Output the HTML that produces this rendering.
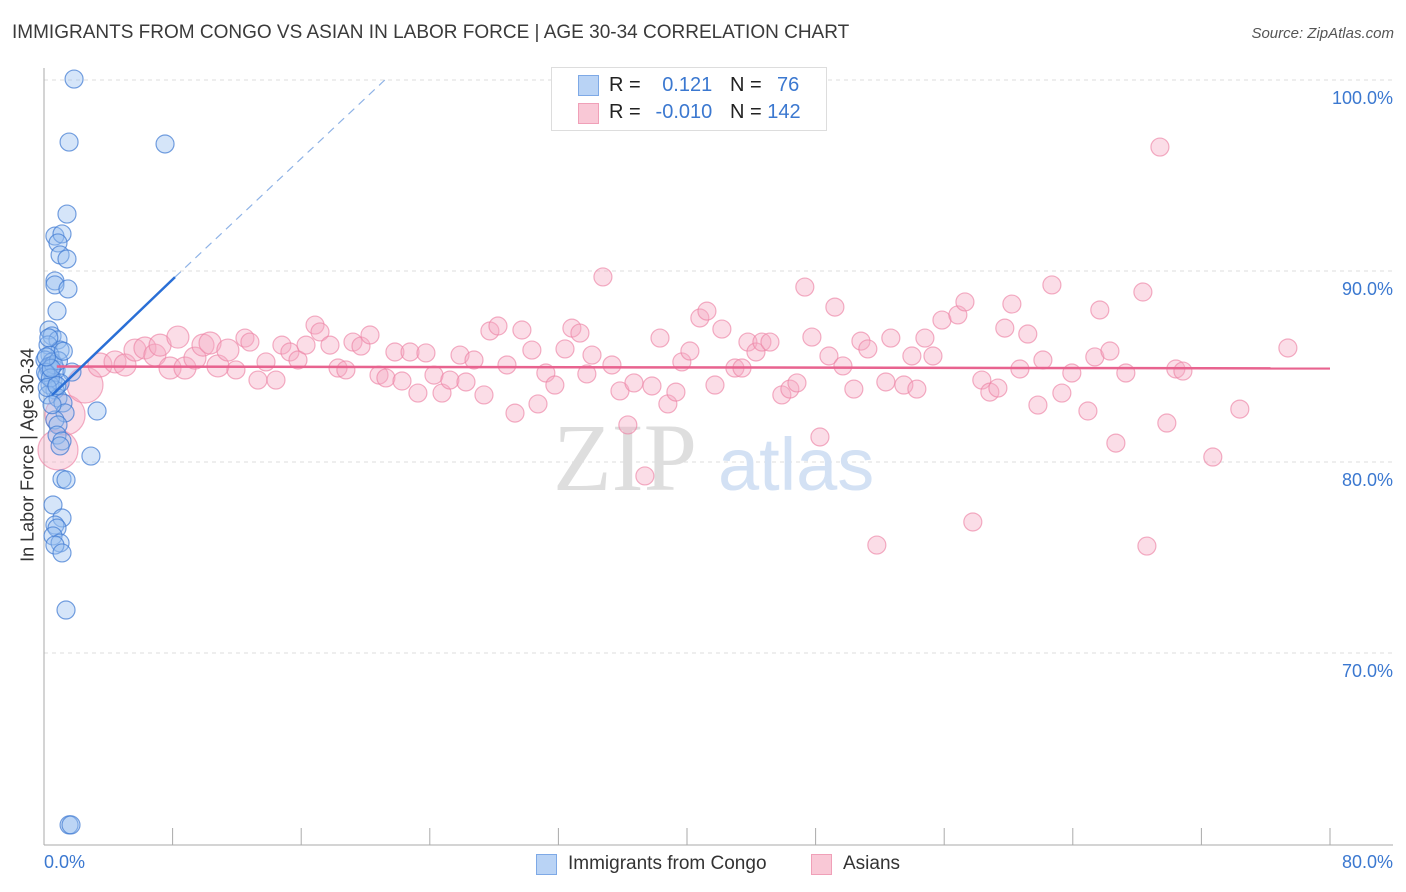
<!DOCTYPE html>
<html><head><meta charset="utf-8"><style>
body{margin:0;background:#fff;font-family:"Liberation Sans",sans-serif;}
#wrap{position:relative;width:1406px;height:892px;overflow:hidden;}
.t{position:absolute;white-space:nowrap;}
</style></head><body>
<div id="wrap">
<div class="t" style="left:12px;top:22px;font-size:19px;color:#3a3a3a;">IMMIGRANTS FROM CONGO VS ASIAN IN LABOR FORCE | AGE 30-34 CORRELATION CHART</div>
<div class="t" style="right:12px;top:25px;font-size:15px;color:#555;font-style:italic;">Source: ZipAtlas.com</div>
<svg id="svg" width="1406" height="892" style="position:absolute;left:0;top:0"></svg>
<div class="t" style="left:551px;top:67px;width:274px;height:62px;border:1px solid #ddd;background:#fff;"></div>
<div class="t" style="left:578px;top:75px;width:19px;height:19px;background:#b9d3f5;border:1px solid #7ea9e6;"></div>
<div class="t" style="left:578px;top:103px;width:19px;height:19px;background:#f9c8d6;border:1px solid #f0a0b8;"></div>
<div class="t" style="left:609px;top:74px;font-size:20px;color:#222;">R = <span style="color:#3b78d0;display:inline-block;width:66px;text-align:right">0.121</span></div>
<div class="t" style="left:730px;top:74px;font-size:20px;color:#222;">N = <span style="color:#3b78d0;display:inline-block;width:32px;text-align:right">76</span></div>
<div class="t" style="left:609px;top:101px;font-size:20px;color:#222;">R = <span style="color:#3b78d0;display:inline-block;width:66px;text-align:right">-0.010</span></div>
<div class="t" style="left:730px;top:101px;font-size:20px;color:#222;">N = <span style="color:#3b78d0">142</span></div>
<div class="t" style="left:28px;top:455px;font-size:18px;color:#333;transform:translate(-50%,-50%) rotate(-90deg);">In Labor Force | Age 30-34</div>
<div class="t" style="left:44px;top:852px;font-size:18px;color:#3b78d0;">0.0%</div>
<div class="t" style="right:13px;top:852px;font-size:18px;color:#3b78d0;">80.0%</div>
<div class="t" style="left:536px;top:854px;width:19px;height:19px;background:#b9d3f5;border:1px solid #7ea9e6;"></div>
<div class="t" style="left:568px;top:853px;font-size:19px;color:#333;">Immigrants from Congo</div>
<div class="t" style="left:811px;top:854px;width:19px;height:19px;background:#f9c8d6;border:1px solid #f0a0b8;"></div>
<div class="t" style="left:843px;top:853px;font-size:19px;color:#333;">Asians</div>
</div>
<script>
const yTicks=[100,90,80,70];
const yTickLabels=["100.0%","90.0%","80.0%","70.0%"];
const xTicks=[0,8,16,24,32,40,48,56,64,72,80];
const congoX=[1.87,1.56,7.53,1.43,0.68,1.12,0.87,1.0,1.43,0.68,0.68,1.49,0.81,0.31,0.5,0.87,0.25,1.0,0.37,0.06,0.5,0.25,0.75,1.74,0.19,0.56,1.0,0.37,0.68,0.25,0.87,1.18,3.3,1.31,0.68,0.87,0.81,1.12,1.0,2.92,1.12,1.37,0.56,1.12,0.68,0.81,0.56,1.0,0.68,1.12,1.37,1.56,1.68,0.3,0.6,0.1,0.4,0.9,0.2,0.5,0.8,0.3,1.2,0.45,0.15];
const congoY=[100.05,96.75,96.65,92.98,91.83,91.94,91.47,90.84,90.63,89.48,89.27,89.06,87.91,86.91,86.6,86.39,86.13,85.86,85.6,85.34,85.24,84.92,84.82,84.71,84.55,84.29,84.14,84.03,83.77,83.51,83.35,83.09,82.67,82.57,82.2,81.94,81.41,81.1,80.84,80.31,79.11,79.06,77.75,77.07,76.7,76.54,76.13,75.76,75.65,75.24,72.25,61.0,61.0,85.0,85.1,84.7,84.4,85.3,83.9,83.0,84.0,86.5,85.8,84.9,85.5];
const asianX=[0.87,1.31,2.55,3.48,4.42,5.04,5.66,6.28,6.9,7.22,7.84,8.33,8.77,9.39,9.89,10.33,10.82,11.44,11.94,12.5,12.81,13.31,13.81,14.43,14.8,15.3,15.8,16.3,16.86,17.17,17.79,18.29,18.78,19.22,19.72,20.28,20.84,21.27,21.83,22.27,22.77,23.26,23.76,24.26,24.76,25.25,25.88,26.25,26.75,27.37,27.74,28.24,28.8,29.3,29.73,30.35,30.73,31.22,31.78,32.41,32.84,33.34,33.77,34.09,34.77,35.33,35.83,36.32,36.7,37.38,37.82,38.32,38.81,39.31,39.68,40.18,40.8,41.24,41.74,42.17,42.98,43.42,43.79,44.29,44.66,45.16,45.9,46.4,46.84,47.33,47.77,48.27,48.83,49.2,49.7,50.38,50.82,51.25,51.81,52.37,52.68,53.49,53.99,54.3,54.8,55.3,55.86,56.85,57.29,57.78,58.34,58.84,59.34,59.77,60.21,60.71,61.2,61.83,62.14,62.7,63.32,63.94,64.94,65.37,65.68,66.31,66.68,67.3,68.36,68.61,69.42,69.85,70.41,70.85,72.71,74.39,77.38];
const asianY=[80.63,82.46,84.03,85.08,85.24,85.08,85.86,85.97,85.6,86.12,84.92,86.54,84.92,85.44,86.12,86.23,85.03,85.86,84.82,86.49,86.28,84.29,85.24,84.29,86.12,85.76,85.34,86.12,87.17,86.81,86.12,84.92,84.82,86.28,86.07,86.65,84.55,84.4,85.76,84.24,85.76,83.61,85.71,84.55,83.61,84.29,85.6,84.19,85.34,83.51,86.86,87.12,85.08,82.56,86.91,85.86,83.04,84.66,84.03,85.92,87.01,86.75,84.61,85.6,89.69,85.08,83.72,81.94,84.14,79.27,83.98,86.49,83.04,83.66,85.24,85.81,87.54,87.9,84.03,86.96,84.92,84.92,86.28,85.76,86.28,86.28,83.51,83.82,84.14,89.16,86.54,81.31,85.55,88.11,85.03,83.82,86.33,85.92,75.65,84.19,86.49,84.03,85.55,83.82,86.49,85.55,87.43,87.7,88.38,76.86,84.29,83.66,83.87,87.01,88.27,84.87,86.7,82.98,85.34,89.27,83.61,84.66,82.67,85.5,87.96,85.81,80.99,84.66,88.9,75.6,96.49,82.04,84.87,84.76,80.26,82.77,85.97];
const asianSize=[20,20,18,12,11,11,11,11,11,11,11,11,11,11,11,11,11,11];
const congoTrend=[[0.5,83.5],[8.15,89.68]];
const congoTrendExt=[[8.15,89.68],[21.2,100]];
const asianTrend=[[0.8,85.0],[80,84.9]];
const X=v=>44+v*16.075, Y=v=>80+(100-v)*19.1;
const svg=document.getElementById('svg');const NS="http://www.w3.org/2000/svg";
function mk(tag,attrs,name){const e=document.createElementNS(NS,tag);for(const k in attrs)e.setAttribute(k,attrs[k]);


svg.appendChild(e);return e;}
yTicks.forEach((t,i)=>{mk('line',{x1:44,x2:1393,y1:Y(t),y2:Y(t),stroke:'#dcdcdc','stroke-dasharray':'4,4'},'gridline');
const tx=mk('text',{x:1393,y:Y(t)+24,'text-anchor':'end','font-size':18,fill:'#3b78d0','font-family':'Liberation Sans'},'y-tick-label');tx.textContent=yTickLabels[i];});
mk('line',{x1:44,x2:44,y1:68,y2:845,stroke:'#aaa'},'y-axis');
mk('line',{x1:44,x2:1393,y1:845,y2:845,stroke:'#aaa'},'x-axis');
xTicks.forEach(t=>mk('line',{x1:X(t),x2:X(t),y1:828,y2:845,stroke:'#aaa'},'x-tick'));
const w1=mk('text',{x:553,y:490,'font-size':96,fill:'#dedede','font-family':'Liberation Serif'},'watermark-zip');w1.textContent='ZIP';
const w2=mk('text',{x:718,y:490,'font-size':74,fill:'#d3e1f4','font-family':'Liberation Sans'},'watermark-atlas');w2.textContent='atlas';
asianX.forEach((x,i)=>mk('circle',{cx:X(x),cy:Y(asianY[i]),r:asianSize[i]||9,fill:'rgba(246,170,195,0.4)',stroke:'rgba(236,130,165,0.65)','stroke-width':1.2},'asian-point'));
congoX.forEach((x,i)=>mk('circle',{cx:X(x),cy:Y(congoY[i]),r:9,fill:'rgba(150,190,240,0.4)',stroke:'rgba(60,120,210,0.7)','stroke-width':1.2},'congo-point'));
mk('line',{x1:X(asianTrend[0][0]),y1:Y(asianTrend[0][1]),x2:X(asianTrend[1][0]),y2:Y(asianTrend[1][1]),stroke:'#e8638f','stroke-width':2.5},'asian-trendline');
mk('line',{x1:X(congoTrend[0][0]),y1:Y(congoTrend[0][1]),x2:X(congoTrend[1][0]),y2:Y(congoTrend[1][1]),stroke:'#2a6fd6','stroke-width':2.5},'congo-trendline');
mk('line',{x1:X(congoTrendExt[0][0]),y1:Y(congoTrendExt[0][1]),x2:X(congoTrendExt[1][0]),y2:Y(congoTrendExt[1][1]),stroke:'#8fb3e6','stroke-width':1.2,'stroke-dasharray':'8,6'},'congo-trendline-extension');
</script>
</body></html>
